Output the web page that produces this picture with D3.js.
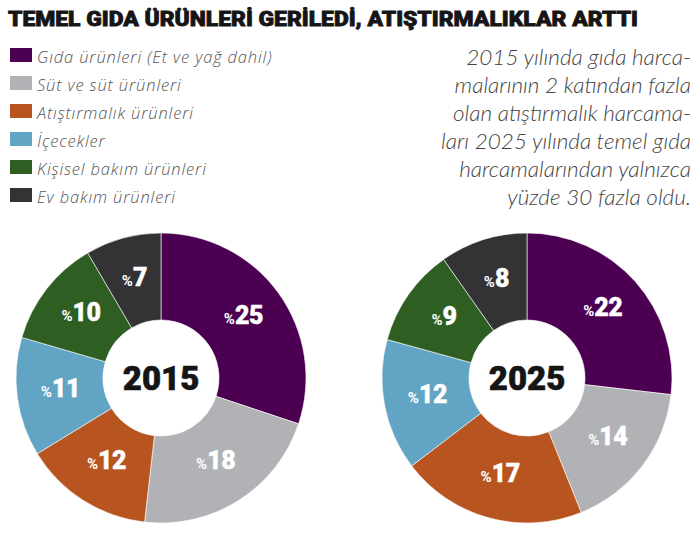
<!DOCTYPE html>
<html>
<head>
<meta charset="utf-8">
<script src="https://cdn.jsdelivr.net/npm/d3@7/dist/d3.min.js"></script>
<style>
  html, body { margin: 0; padding: 0; background: #fff; }
  svg { display: block; }
</style>
</head>
<body>
<svg id="chart" width="700" height="536"></svg>
<script>
const title = "TEMEL GIDA ÜRÜNLERİ GERİLEDİ, ATIŞTIRMALIKLAR ARTTI";
const categories = [
  "Gıda ürünleri (Et ve yağ dahil)",
  "Süt ve süt ürünleri",
  "Atıştırmalık ürünleri",
  "İçecekler",
  "Kişisel bakım ürünleri",
  "Ev bakım ürünleri"
];
const colors = ["#4b0052", "#b1b2b5", "#b8541f", "#62a4c4", "#2e5e22", "#333235"];
const years = ["2015", "2025"];
const values2015 = [25, 18, 12, 11, 10, 7];
const values2025 = [22, 14, 17, 12, 9, 8];
const noteLines = [
  "2015 yılında gıda harca-",
  "malarının 2 katından fazla",
  "olan atıştırmalık harcama-",
  "ları 2025 yılında temel gıda",
  "harcamalarından yalnızca",
  "yüzde 30 fazla oldu."
];

const svg = d3.select("#chart");
const heavy = "Roboto, Lato, sans-serif";

// Title
svg.append("text")
  .attr("x", 8).attr("y", 26)
  .attr("font-family", heavy).attr("font-weight", 900)
  .attr("font-size", 21).attr("fill", "#151515")
  .attr("stroke", "#151515").attr("stroke-width", 0.8)
  .attr("textLength", 630).attr("lengthAdjust", "spacingAndGlyphs")
  .text(title);

// Legend
const legend = svg.append("g");
const rowY = d3.scaleBand().domain(d3.range(categories.length)).range([42, 210]);
const leg = legend.selectAll("g").data(categories).join("g")
  .attr("transform", (d, i) => `translate(0,${rowY(i)})`);
leg.append("rect").attr("x", 10).attr("y", 6).attr("width", 22).attr("height", 14)
  .attr("fill", (d, i) => colors[i]);
leg.append("text").attr("x", 37).attr("y", 21)
  .attr("font-family", "'Open Sans', sans-serif").attr("font-style", "italic").attr("font-weight", 300)
  .attr("font-size", 16.5).attr("letter-spacing", 0.85).attr("fill", "#555")
  .text(d => d);

// Note text
const noteY = d3.scaleLinear().domain([0, noteLines.length - 1]).range([65, 205]);
svg.append("g").selectAll("text").data(noteLines).join("text")
  .attr("x", 691).attr("y", (d, i) => noteY(i))
  .attr("text-anchor", "end")
  .attr("font-family", "Lato, sans-serif").attr("font-style", "italic").attr("font-weight", 300)
  .attr("font-size", 22.5).attr("fill", "#444")
  .text(d => d);

// Donuts
const pie = d3.pie().sort(null).value(d => d);
const rIn = 58, rOut = 145;
const arc = d3.arc().innerRadius(rIn).outerRadius(rOut);
const cx = d3.scalePoint().domain(years).range([161, 527]);
const series = [values2015, values2025];

years.forEach((yr, k) => {
  const g = svg.append("g").attr("transform", `translate(${cx(yr)},378)`);
  const arcs = pie(series[k]);
  g.selectAll("path").data(arcs).join("path")
    .attr("d", arc)
    .attr("fill", (d, i) => colors[i])
    .attr("stroke", "#fff").attr("stroke-width", 0.6);
  const lab = g.selectAll("text.lab").data(arcs).join("text")
    .attr("class", "lab")
    .attr("transform", d => `translate(${arc.centroid(d)})`)
    .attr("text-anchor", "middle").attr("dy", "0.36em")
    .attr("font-family", heavy).attr("font-weight", 900)
    .attr("fill", "#fff");
  lab.append("tspan").attr("font-size", 15).attr("font-weight", 700).text("%");
  lab.append("tspan").attr("font-size", 25).attr("letter-spacing", -0.5)
    .attr("stroke", "#fff").attr("stroke-width", 0.4).text(d => d.data);
  g.append("text").attr("text-anchor", "middle").attr("dy", "0.36em")
    .attr("font-family", heavy).attr("font-weight", 900)
    .attr("font-size", 33).attr("fill", "#151515")
    .attr("stroke", "#151515").attr("stroke-width", 0.6)
    .text(yr);
});
</script>
</body>
</html>
